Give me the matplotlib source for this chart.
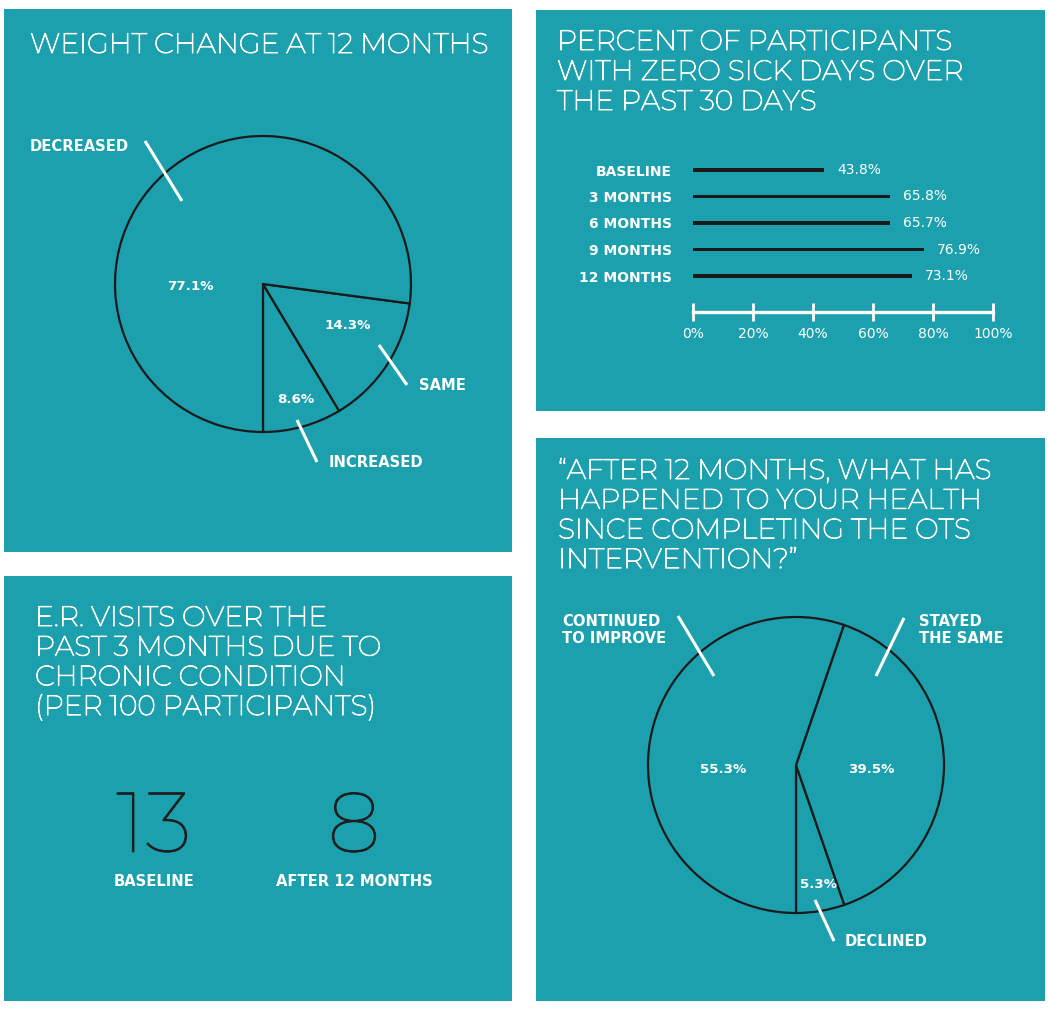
import matplotlib
matplotlib.use("Agg")
import matplotlib.pyplot as plt
from matplotlib.patches import Rectangle
import matplotlib.patheffects as pe

W, H = 1048, 1009
TEAL = "#1ca0ad"
DARK = "#1a1a1a"
WHITE = "#ffffff"

# ---------------- data ----------------
weight_labels = ["INCREASED", "SAME", "DECREASED"]
weight_values = [8.6, 14.3, 77.1]

sick_categories = ["BASELINE", "3 MONTHS", "6 MONTHS", "9 MONTHS", "12 MONTHS"]
sick_values = [43.8, 65.8, 65.7, 76.9, 73.1]
sick_ticks = [0, 20, 40, 60, 80, 100]
sick_tick_labels = ["0%", "20%", "40%", "60%", "80%", "100%"]

er_labels = ["BASELINE", "AFTER 12 MONTHS"]
er_values = [13, 8]

health_labels = ["DECLINED", "STAYED\nTHE SAME", "CONTINUED\nTO IMPROVE"]
health_values = [5.3, 39.5, 55.3]

THIN = ["Montserrat", "DejaVu Sans"]
SANS = ["DejaVu Sans"]
plt.rcParams["font.family"] = SANS


def fx(x):
    return x / W


def fy(y):
    return 1 - y / H


fig = plt.figure(figsize=(W / 100, H / 100), dpi=100)
fig.patch.set_facecolor("white")
bg = fig.add_axes([0, 0, 1, 1], zorder=0)
bg.set_xlim(0, W)
bg.set_ylim(H, 0)
bg.axis("off")

fg = fig.add_axes([0, 0, 1, 1], zorder=5)
fg.set_xlim(0, W)
fg.set_ylim(H, 0)
fg.axis("off")
fg.patch.set_alpha(0)

# panels
for (x0, y0, x1, y1) in [(4, 9, 512, 552), (536, 10, 1045, 411),
                         (4, 576, 512, 1001), (536, 438, 1045, 1001)]:
    bg.add_patch(Rectangle((x0, y0), x1 - x0, y1 - y0, facecolor=TEAL,
                           edgecolor="none"))

TITLE = dict(color=WHITE, fontsize=20.2, va="baseline", ha="left", family=THIN,
             path_effects=[pe.withStroke(linewidth=0.7, foreground=WHITE)])


def title(x, y0, lines, step=30):
    for i, ln in enumerate(lines):
        fg.text(x, y0 + i * step, ln, **TITLE)


title(30, 53, ["WEIGHT CHANGE AT 12 MONTHS"])
title(557, 50, ["PERCENT OF PARTICIPANTS", "WITH ZERO SICK DAYS OVER",
                "THE PAST 30 DAYS"])
title(35, 626, ["E.R. VISITS OVER THE", "PAST 3 MONTHS DUE TO",
                "CHRONIC CONDITION", "(PER 100 PARTICIPANTS)"], step=29.7)
title(558, 479, ["\u201cAFTER 12 MONTHS, WHAT HAS", "HAPPENED TO YOUR HEALTH",
                 "SINCE COMPLETING THE OTS", "INTERVENTION?\u201d"], step=29.7)

LBL = dict(color=WHITE, fontsize=10.6, fontweight="bold", va="baseline")
PCT = dict(color=WHITE, fontsize=9.6, fontweight="bold", ha="center",
           va="center")


def leader(p0, p1):
    fg.plot([p0[0], p1[0]], [p0[1], p1[1]], color=WHITE, lw=2.2,
            solid_capstyle="butt")


# ---------------- pie 1 ----------------
R = 148


def pie_axes(cx, cy):
    ax = fig.add_axes([fx(cx - R), fy(cy + R), 2 * R / W, 2 * R / H], zorder=1)
    ax.patch.set_alpha(0)
    return ax


ax1 = pie_axes(263, 284)
ax1.pie(weight_values, startangle=-90, counterclock=True, radius=1,
        colors=[TEAL] * 3,
        wedgeprops=dict(edgecolor=DARK, linewidth=1.6))
ax1.set_xlim(-1, 1)
ax1.set_ylim(-1, 1)
ax1.set_aspect("auto")
ax1.text(-0.49, -0.02, "77.1%", **PCT)
ax1.text(0.57, -0.28, "14.3%", **PCT)
ax1.text(0.22, -0.78, "8.6%", **PCT)

fg.text(30, 151, "DECREASED", ha="left", **LBL)
leader((145, 141), (182, 201))
fg.text(419, 390, "SAME", ha="left", **LBL)
leader((379, 345), (407, 385))
fg.text(329, 467, "INCREASED", ha="left", **LBL)
leader((297, 420), (317, 462))

# ---------------- bar chart ----------------
top_px, bot_px = 160, 312
y_first, y_step = 170, 26.5
ymax = (bot_px - y_first) / y_step
ymin = (top_px - y_first) / y_step
axb = fig.add_axes([fx(693), fy(bot_px), 300 / W, (bot_px - top_px) / H],
                   zorder=1)
axb.patch.set_alpha(0)
ypos = list(range(len(sick_categories)))
axb.barh(ypos, sick_values, height=0.14, color=DARK)
axb.set_xlim(0, 100)
axb.set_ylim(ymax, ymin)
for s in ["top", "right", "left"]:
    axb.spines[s].set_visible(False)
axb.spines["bottom"].set_color(WHITE)
axb.spines["bottom"].set_linewidth(2.4)
axb.set_xticks(sick_ticks)
axb.set_xticklabels(sick_tick_labels)
axb.tick_params(axis="x", colors=WHITE, direction="inout", length=13,
                width=2, pad=4, labelsize=10)
axb.set_yticks(ypos)
axb.set_yticklabels(sick_categories)
axb.tick_params(axis="y", length=0, pad=15, labelsize=10, colors=WHITE)
for t in axb.get_yticklabels():
    t.set_fontweight("bold")
for y, v in zip(ypos, sick_values):
    axb.annotate(f"{v}%", (v, y), xytext=(13, 0), textcoords="offset pixels",
                 color=WHITE, fontsize=10, va="center", ha="left")

# ---------------- E.R. visits ----------------
for cx, val, lab in zip([154, 354], er_values, er_labels):
    fg.text(cx, 852, str(val), color="#1e1e1e", fontsize=61,
            ha="center", va="baseline", family=THIN,
            path_effects=[pe.withStroke(linewidth=0.6, foreground="#1e1e1e")])
    fg.text(cx, 886, lab, ha="center", **LBL)

# ---------------- pie 2 ----------------
ax2 = pie_axes(796, 765)
ax2.pie(health_values, startangle=-90, counterclock=True, radius=1,
        colors=[TEAL] * 3,
        wedgeprops=dict(edgecolor=DARK, linewidth=1.6))
ax2.set_xlim(-1, 1)
ax2.set_ylim(-1, 1)
ax2.set_aspect("auto")
ax2.text(-0.49, -0.03, "55.3%", **PCT)
ax2.text(0.51, -0.03, "39.5%", **PCT)
ax2.text(0.15, -0.81, "5.3%", **PCT)

fg.text(562, 626, "CONTINUED", ha="left", **LBL)
fg.text(562, 643, "TO IMPROVE", ha="left", **LBL)
leader((678, 616), (714, 676))
fg.text(919, 626, "STAYED", ha="left", **LBL)
fg.text(919, 643, "THE SAME", ha="left", **LBL)
leader((904, 618), (876, 676))
fg.text(845, 946, "DECLINED", ha="left", **LBL)
leader((815, 900), (834, 941))

fig.savefig("out.png", dpi=100, facecolor="white")
